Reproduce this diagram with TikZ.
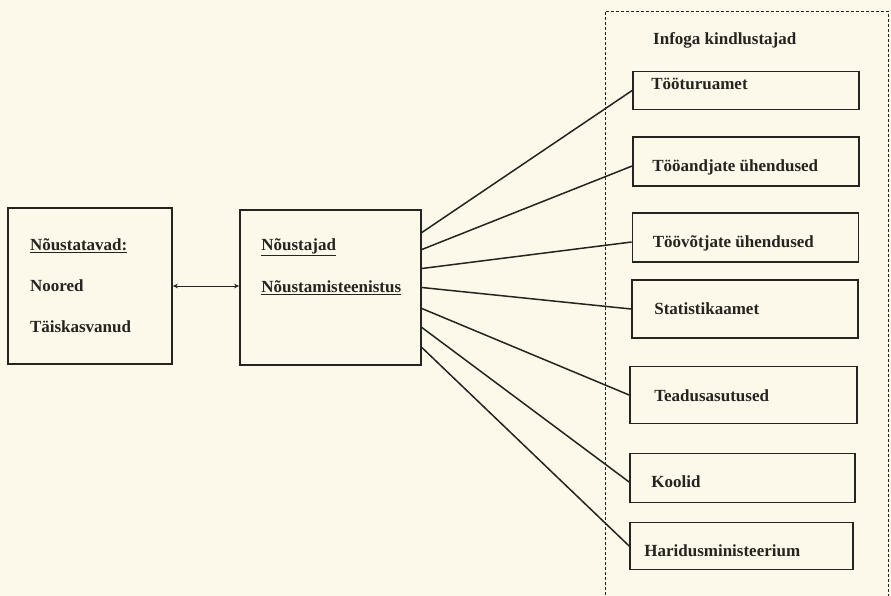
\documentclass[tikz,border=0pt]{standalone}
\usepackage{fontspec}
\setmainfont{Liberation Serif}
\usepackage{tikz}
\usetikzlibrary{positioning,arrows.meta}
\definecolor{tpaper}{HTML}{FCF9EA}
\definecolor{tink}{HTML}{262320}

\begin{document}
\begin{tikzpicture}[x=1pt, y=-1pt, color=tink, font=\bfseries\fontsize{17}{20}\selectfont,
  box/.style={draw, line width=1.7pt, inner sep=0pt},
  org/.style={box, minimum width=226pt},
  txt/.style={inner sep=0pt, text height=12pt, text depth=4pt, anchor=west},
  link/.style={line width=1.5pt},
  arr/.style={{Stealth[length=5pt,width=4.5pt]}-{Stealth[length=5pt,width=4.5pt]}, line width=1pt}]
\path[fill=tpaper, use as bounding box] (0,0) rectangle (891,596);
% dashed frame, open at the bottom
\draw[line width=0.9pt, dash pattern=on 3pt off 2pt] (605,600) -- (605,11) -- (888,11) -- (888,600);
\node[box, minimum width=164pt, minimum height=156pt, text width=120pt, align=left] (seekers) at (90,286)
  {\underline{Nõustatavad:}\\[21pt]Noored\\[21pt]Täiskasvanud};
\node[box, minimum width=181pt, minimum height=155pt] (advisers) at (330.5,287.5) {};
\node[txt] (advTitle) at ([xshift=22pt, yshift=-37pt]advisers.north west) {\underline{Nõustajad}};
\node[txt] (advService) at ([xshift=22pt, yshift=-79pt]advisers.north west) {\underline{Nõustamisteenistus}};
\draw[arr] (seekers.east) -- (seekers.east -| advisers.west);
\node[txt] (insTitle) at (653,41) {Infoga kindlustajad};
\node[org, minimum height=38pt] (labour) at (746,90.5) {};
\node[org, minimum height=49pt] (employers) at (746,161.5) {};
\node[org, minimum height=49pt] (employees) at (745.5,237.5) {};
\node[org, minimum height=58pt] (stats) at (745,309) {};
\node[org, minimum height=57pt, minimum width=227pt] (science) at (743.5,395) {};
\node[org, minimum height=49pt, minimum width=225pt] (schools) at (742.5,478) {};
\node[org, minimum height=47pt, minimum width=223pt] (ministry) at (741.5,546) {};
\node[txt, right=19pt of labour.west, yshift=5pt] (labourTxt) {Tööturuamet};
\node[txt, right=20pt of employers.west, yshift=-6.5pt] (employersTxt) {Tööandjate ühendused};
\node[txt, right=21pt of employees.west, yshift=-5.5pt] (employeesTxt) {Töövõtjate ühendused};
\node[txt, right=23pt of stats.west, yshift=-1pt] (statsTxt) {Statistikaamet};
\node[txt, right=25pt of science.west, yshift=-2pt] (scienceTxt) {Teadusasutused};
\node[txt, right=22pt of schools.west, yshift=-5pt] (schoolsTxt) {Koolid};
\node[txt, right=15pt of ministry.west, yshift=-6pt] (ministryTxt) {Haridusministeerium};
\draw[link] ([yshift=55pt]advisers.east) -- (labour.west);
\draw[link] ([yshift=38pt]advisers.east) -- ([yshift=-4.5pt]employers.west);
\draw[link] ([yshift=19pt]advisers.east) -- ([yshift=-4.5pt]employees.west);
\draw[link] (advisers.east) -- (stats.west);
\draw[link] ([yshift=-21pt]advisers.east) -- (science.west);
\draw[link] ([yshift=-40pt]advisers.east) -- ([yshift=-4pt]schools.west);
\draw[link] ([yshift=-60pt]advisers.east) -- (ministry.west);
\end{tikzpicture}
\end{document}
